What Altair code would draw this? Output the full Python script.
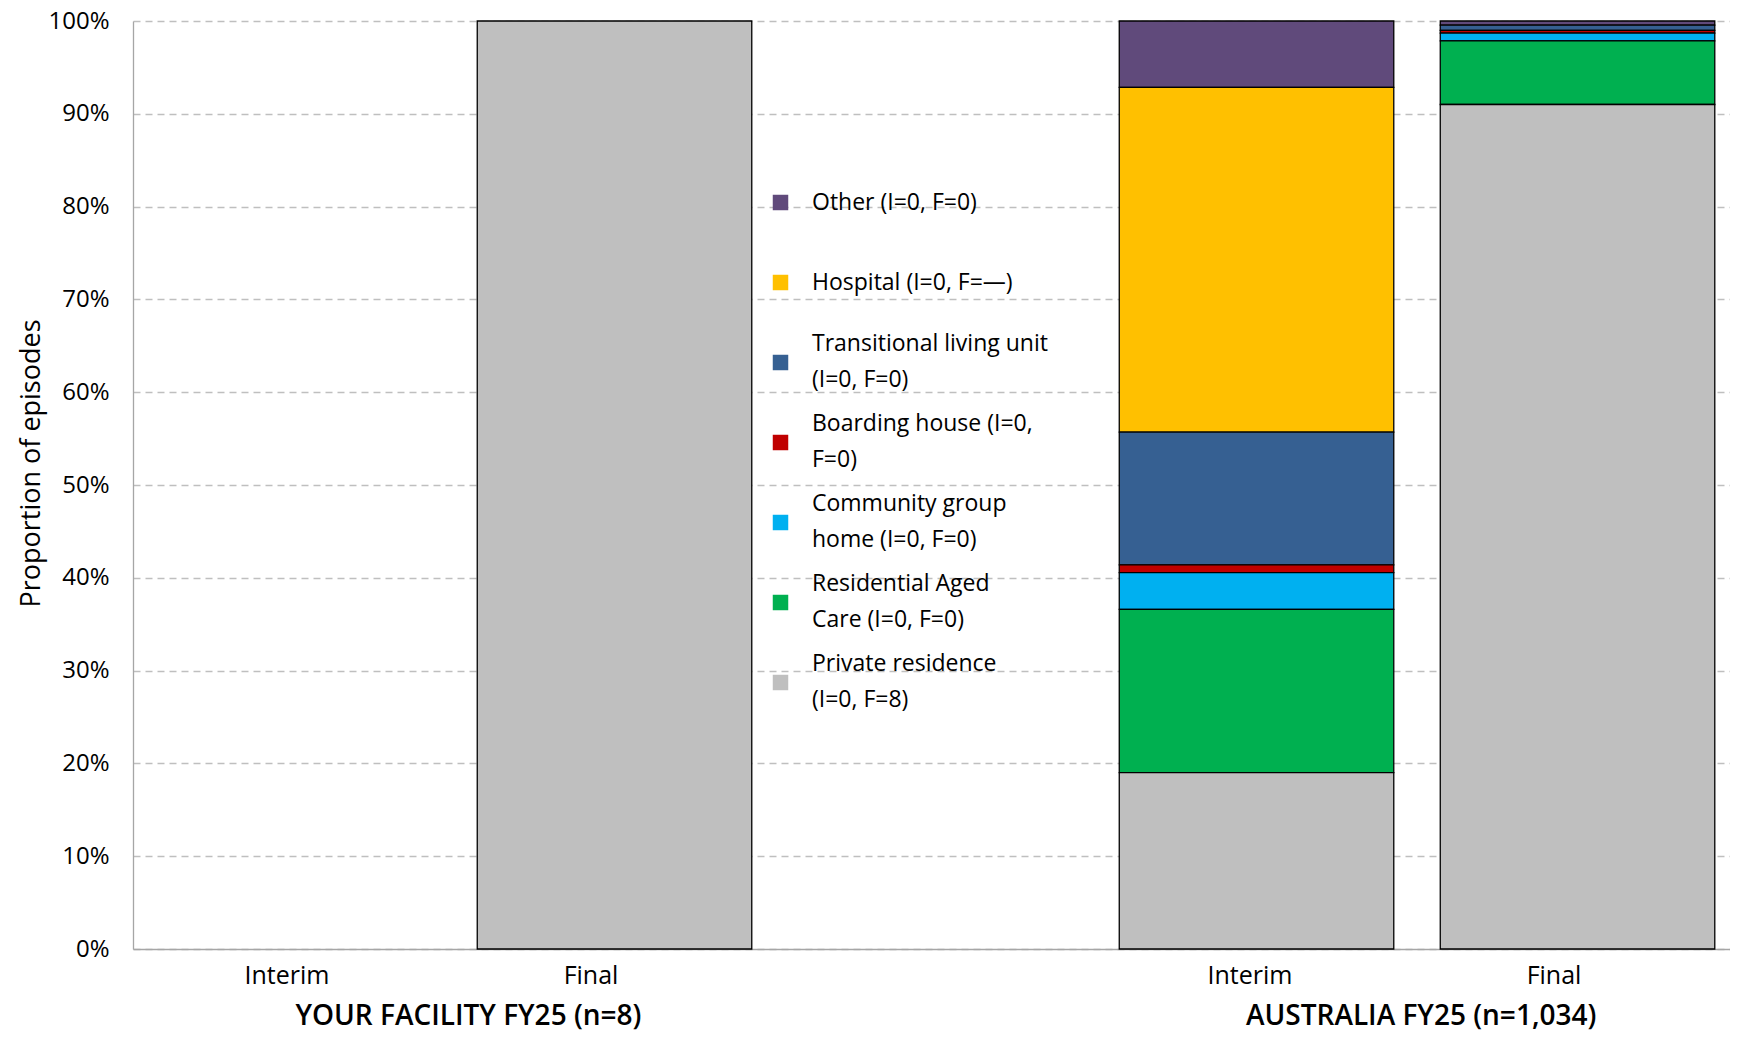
import altair as alt
import pandas as pd

# ---- data ----
series = [
    "Other (I=0, F=0)",
    "Hospital (I=0, F=—)",
    "Transitional living unit|(I=0, F=0)",
    "Boarding house (I=0,|F=0)",
    "Community group|home (I=0, F=0)",
    "Residential Aged|Care (I=0, F=0)",
    "Private residence|(I=0, F=8)",
]
colors = ["#604A7B", "#FFC000", "#366092", "#C00000", "#00B0F0", "#00B050", "#BFBFBF"]
stack_rank = [6, 5, 4, 3, 2, 1, 0]  # 0 = bottom of the stack

bar_slots = [0, 1, 3, 4]
tick_labels = ["Interim", "Final", "Interim", "Final"]
your_interim = [0, 0, 0, 0, 0, 0, 0]
your_final = [0, 0, 0, 0, 0, 0, 100]
aus_interim = [7.15, 37.15, 14.3, 0.85, 3.95, 17.6, 19.0]
aus_final = [0.45, 0, 0.55, 0.3, 0.85, 6.85, 91.0]

group_names = ["YOUR FACILITY FY25 (n=8)", "AUSTRALIA FY25 (n=1,034)"]
group_centers = [0.545, 3.513]

# ---- tables ----
rows = []
for slot, vals in zip(bar_slots, [your_interim, your_final, aus_interim, aus_final]):
    for s, v, r in zip(series, vals, stack_rank):
        rows.append({"slot": slot, "series": s, "value": v, "rank": r})
df = pd.DataFrame(rows)
groups = pd.DataFrame({"name": group_names, "center": group_centers})

W, H = 1597, 928
FONT = "Open Sans"
half = 0.4276

label_expr = " : ".join(
    f"datum.value == {s} ? '{t}'" for s, t in zip(bar_slots, tick_labels)
) + " : ''"

xscale = alt.Scale(domain=[-0.5, 4.475], nice=False, zero=False)

bars = (
    alt.Chart(df)
    .transform_filter("datum.value > 0")
    .transform_stack(stack="value", groupby=["slot"], as_=["y0", "y1"],
                     sort=[alt.SortField("rank", order="ascending")])
    .transform_calculate(x0=f"datum.slot - {half}", x1=f"datum.slot + {half}")
    .mark_bar(stroke="black", strokeWidth=1.3)
    .encode(
        x=alt.X("x0:Q", scale=xscale,
                axis=alt.Axis(values=bar_slots, labelExpr=label_expr, title=None,
                              grid=False, ticks=False, labelFlush=False,
                              labelOffset={"condition": {"test": "datum.value == 1 || datum.value == 4",
                                                         "value": -24},
                                           "value": -7},
                              domainColor="#A6A6A6", domainWidth=1.3,
                              labelFontSize=25, labelFont=FONT, labelColor="black",
                              labelPadding=14)),
        x2="x1:Q",
        y=alt.Y("y0:Q", scale=alt.Scale(domain=[0, 100], nice=False),
                axis=alt.Axis(values=list(range(0, 101, 10)), labelExpr="datum.value + '%'",
                              title="Proportion of episodes", titleFontSize=27,
                              titleFont=FONT, titleFontWeight="normal", titleColor="black",
                              titlePadding=2, titleY=442,
                              labelFontSize=24, labelFont=FONT, labelColor="black",
                              labelPadding=24, labelFlush=False, ticks=False,
                              grid=True, gridDash=[7, 5], gridColor="#BFBFBF", gridWidth=1.3,
                              domainColor="#A6A6A6", domainWidth=1.3)),
        y2="y1:Q",
        color=alt.Color("series:N", scale=alt.Scale(domain=series, range=colors),
                        legend=alt.Legend(orient="none", legendX=636, legendY=170,
                                          title=None, symbolType="square", symbolSize=240,
                                          symbolStrokeWidth=0, labelFontSize=23,
                                          labelFont=FONT, labelColor="black",
                                          labelExpr="split(datum.label, '|')",
                                          labelBaseline={"expr": "indexof(datum.value, '|') >= 0 ? 'line-bottom' : 'middle'"},
                                          gridAlign="all", rowPadding=19,
                                          labelOffset=20, padding=0, labelLimit=500)),
    )
)

group_text = (
    alt.Chart(groups)
    .mark_text(font=FONT, fontSize=28, fontWeight=600, baseline="middle", color="black")
    .encode(x=alt.X("center:Q", scale=xscale), y=alt.value(H + 68), text="name:N")
)

chart = (
    alt.layer(bars, group_text)
    .properties(width=W, height=H, autosize=alt.AutoSizeParams(type="none"),
                padding={"left": 125, "top": 13, "right": 0, "bottom": 84})
    .configure(font=FONT, background="white",
               style={"guide-label": {"lineHeight": 36.6}})
    .configure_view(stroke=None)
)

chart.save("out.html", embed_options={"renderer": "svg", "actions": False})
